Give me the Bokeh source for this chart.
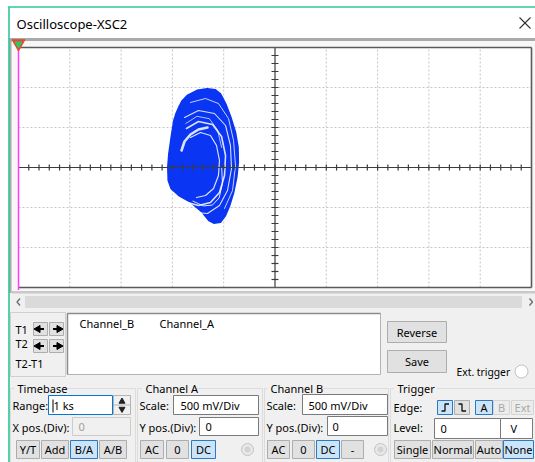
import numpy as np
from bokeh.plotting import figure
from bokeh.models import Range1d
from bokeh.core.properties import value
from bokeh.embed import file_html
from bokeh.resources import INLINE

# ---------------- data (B/A display, volts; 500 mV/Div) ----------------
X_DIVS = [-2.5, -2.0, -1.5, -1.0, -0.5, 0.0, 0.5, 1.0, 1.5, 2.0, 2.5]
Y_DIVS = [-1.5, -1.0, -0.5, 0.0, 0.5, 1.0, 1.5]
MINOR_STEP = 0.1

# outer envelope of the trace (Channel_A on x, Channel_B on y)
trace_x = [-0.661, -0.760, -0.856, -0.905, -0.938, -0.966, -0.986, -1.012, -1.035, -1.045,
           -1.041, -1.012, -0.938, -0.824, -0.710, -0.645, -0.596, -0.531, -0.482, -0.441,
           -0.402, -0.372, -0.357, -0.360, -0.385, -0.430, -0.480, -0.531, -0.580]
trace_y = [0.984, 0.965, 0.900, 0.835, 0.754, 0.670, 0.588, 0.379, 0.171, 0.004,
           -0.163, -0.266, -0.350, -0.434, -0.559, -0.663, -0.696, -0.684, -0.600, -0.475,
           -0.309, -0.121, 0.066, 0.254, 0.441, 0.629, 0.796, 0.921, 0.971]

# empty bands between the orbits of the trace
gap_xs = [
    [-0.824, -0.726, -0.629, -0.570, -0.541, -0.551, -0.599, -0.677, -0.765],
    [-0.863, -0.746, -0.609, -0.521, -0.482, -0.492, -0.541, -0.629, -0.746, -0.853],
    [-0.882, -0.746, -0.590, -0.482, -0.434, -0.424, -0.463, -0.541, -0.658, -0.775],
    [-0.824, -0.677, -0.551, -0.453, -0.404, -0.385, -0.414, -0.492],
    [-0.911, -0.882, -0.824, -0.746, -0.658],
    [-0.800, -0.700, -0.610, -0.545, -0.512, -0.520],
    [-0.870, -0.760, -0.640, -0.560, -0.520],
]
gap_ys = [
    [0.375, 0.4375, 0.4, 0.275, 0.0875, -0.1, -0.2625, -0.35, -0.375],
    [0.4875, 0.575, 0.5375, 0.3875, 0.15, -0.1, -0.3125, -0.4375, -0.475, -0.4375],
    [0.625, 0.7125, 0.675, 0.525, 0.275, -0.0125, -0.2875, -0.475, -0.575, -0.5625],
    [0.8125, 0.8625, 0.8, 0.6125, 0.3375, 0.025, -0.2875, -0.5125],
    [0.2125, 0.325, 0.4125, 0.475, 0.5],
    [-0.420, -0.480, -0.470, -0.380, -0.200, 0.000],
    [0.550, 0.640, 0.610, 0.470, 0.250],
]
gap_w = [1.2, 1.6, 1.1, 0.9, 2.6, 1.0, 0.8]

# ---------------- layout constants (page pixels) ----------------
W, H = 535, 462
CX, CY = 274.5, 167.0      # screen centre
KX, KY = 102.6, 80.0       # px per volt
FONT = "Noto Sans"

p = figure(width=W, height=H, x_range=Range1d(0, W), y_range=Range1d(H, 0),
           output_backend="svg", toolbar_location=None, min_border=0,
           x_axis_location=None, y_axis_location=None,
           background_fill_color="#ffffff", border_fill_color="#ffffff",
           outline_line_color=None)
p.xgrid.visible = False
p.ygrid.visible = False
p.extra_x_ranges = {"vx": Range1d(start=(0 - CX) / KX, end=(W - CX) / KX)}
p.extra_y_ranges = {"vy": Range1d(start=(CY - H) / KY, end=(CY - 0) / KY)}
S = dict(x_range_name="vx", y_range_name="vy")

# ---------------- window chrome ----------------
Q = dict(l=[], r=[], t=[], b=[], fill=[], line=[])
def box(l, r, t, b, fill, line):
    Q["l"].append(l); Q["r"].append(r); Q["t"].append(t); Q["b"].append(b)
    Q["fill"].append(fill); Q["line"].append(line)

T = dict(x=[], y=[], s=[], c=[], a=[])
def txt(x, y, s, c="#000000", a="left"):
    T["x"].append(x); T["y"].append(y); T["s"].append(s); T["c"].append(c); T["a"].append(a)

def button(l, r, t, b, label, state="n"):
    fill, line, tc = {"n": ("#e1e1e1", "#adadad", "#000000"),
                      "s": ("#cce4f7", "#2a79c4", "#000000"),
                      "d": ("#ececec", "#d4d4d4", "#a8a8a8")}[state]
    box(l, r, t, b, fill, line)
    if label:
        txt((l + r) / 2, (t + b) / 2, label, tc, "center")

# window body + title bar
box(8, 540, 6, 470, "#f0f0f0", "#f0f0f0")
box(8, 540, 6, 38, "#ffffff", "#ffffff")
box(9, 540, 38, 41, "#a9a9a9", "#a9a9a9")
box(9, 11.5, 38, 292, "#a9a9a9", "#a9a9a9")
box(11.5, 540, 41, 292, "#f7f7f7", "#f7f7f7")
box(11.5, 540, 291, 292.5, "#c9c9c9", "#c9c9c9")

# scrollbar
box(25, 521, 296, 307, "#dadada", "#dadada")

# cursor panel
box(10, 65, 312, 376, "#f0f0f0", "#d0d0d0")
button(33, 47, 322, 335, None)
button(49, 63, 322, 335, None)
button(33, 47, 339, 352, None)
button(49, 63, 339, 352, None)
txt(15, 329, "T1"); txt(15, 343, "T2"); txt(15, 363, "T2-T1")

# readout area
box(67, 380, 313, 374, "#ffffff", "#b4b4b4")
txt(79, 323, "Channel_B"); txt(159, 323, "Channel_A")

button(387, 446, 321, 342, "Reverse")
button(387, 446, 350, 372, "Save")

# group frames
for l, r in [(10, 135), (137, 262), (264, 388), (390, 545)]:
    box(l, r, 388, 470, "#f0f0f0", "#dcdcdc")
for l, r, lab in [(14, 66, "Timebase"), (142, 194, "Channel A"),
                  (267, 318, "Channel B"), (394, 436, "Trigger")]:
    box(l, r, 383, 393, "#f0f0f0", "#f0f0f0")
    txt(l + 3, 388, lab)

# Timebase
txt(12, 405, "Range:")
box(48, 112, 395, 414, "#ffffff", "#0078d7")
txt(53, 405, "1 ks")
box(113, 130, 395, 414, "#f0f0f0", "#b4b4b4")
txt(12, 427, "X pos.(Div):")
box(72, 130, 417, 435, "#f0f0f0", "#cccccc")
txt(78, 426, "0", "#a0a0a0")
button(16, 39, 440, 458, "Y/T")
button(41, 68, 440, 458, "Add")
button(70, 97, 440, 458, "B/A", "s")
button(99, 126, 440, 458, "A/B")

# Channel A
txt(139, 405, "Scale:")
box(173, 258, 395, 414, "#ffffff", "#7a7a7a")
txt(180, 405, "500 mV/Div")
txt(139, 427, "Y pos.(Div):")
box(199, 258, 417, 435, "#ffffff", "#7a7a7a")
txt(205, 426, "0")
button(140, 163, 440, 458, "AC")
button(166, 188, 440, 458, "0")
button(191, 215, 440, 458, "DC", "s")

# Channel B
txt(266, 405, "Scale:")
box(302, 387, 394, 414, "#ffffff", "#7a7a7a")
txt(308, 405, "500 mV/Div")
txt(266, 427, "Y pos.(Div):")
box(327, 387, 416, 435, "#ffffff", "#7a7a7a")
txt(332, 426, "0")
button(267, 289, 440, 458, "AC")
button(292, 314, 440, 458, "0")
button(316, 339, 440, 458, "DC", "s")
button(341, 363, 440, 458, "-")

# Trigger
txt(393, 407, "Edge:")
button(437, 452, 400, 414, None, "s")
button(454, 469, 400, 414, None)
button(475, 492, 400, 414, "A", "s")
button(493, 509, 400, 414, "B", "d")
button(511, 533, 400, 414, "Ext", "d")
txt(393, 427, "Level:")
box(434, 500, 418, 438, "#ffffff", "#7a7a7a")
box(500, 532, 418, 438, "#ffffff", "#7a7a7a")
txt(440, 428, "0"); txt(510, 428, "V")
button(394, 430, 440, 458, "Single")
button(432, 473, 440, 458, "Normal")
button(475, 502, 440, 458, "Auto")
button(503, 533, 440, 458, "None", "s")

p.quad(left=Q["l"], right=Q["r"], top=Q["t"], bottom=Q["b"],
       fill_color=Q["fill"], line_color=Q["line"], line_width=1)

# readout inset edge
p.multi_line(xs=[[67, 67, 380]], ys=[[374, 313, 313]], line_color="#8c8c8c", line_width=1.5)

# ---------------- scope screen (volt coordinates) ----------------
p.quad(left=[X_DIVS[0]], right=[X_DIVS[-1]], top=[Y_DIVS[-1]], bottom=[Y_DIVS[0]],
       fill_color="#ffffff", line_color=None, **S)
inner_x = [v for v in X_DIVS[1:-1] if v != 0]
inner_y = [v for v in Y_DIVS[1:-1] if v != 0]
p.segment(x0=inner_x, y0=[Y_DIVS[0]] * len(inner_x), x1=inner_x, y1=[Y_DIVS[-1]] * len(inner_x),
          line_color="#c4c4c4", line_dash="2 2", line_width=1, **S)
p.segment(x0=[X_DIVS[0]] * len(inner_y), y0=inner_y, x1=[X_DIVS[-1]] * len(inner_y), y1=inner_y,
          line_color="#c4c4c4", line_dash="2 2", line_width=1, **S)

# trace
p.patch(trace_x, trace_y, fill_color="#0a35f2", line_color="#0a35f2", line_width=1.5,
        line_join="round", **S)
p.multi_line(xs=gap_xs, ys=gap_ys, line_color="#ffffff", line_width=gap_w, line_alpha=0.85,
             line_join="round", line_cap="round", **S)

# centre axes with crossing ticks
p.segment(x0=[X_DIVS[0], 0], y0=[0, Y_DIVS[0]], x1=[X_DIVS[-1], 0], y1=[0, Y_DIVS[-1]],
          line_color="#3c3c3c", line_width=1.2, **S)
mx = np.round(np.arange(X_DIVS[0] + MINOR_STEP, X_DIVS[-1] - MINOR_STEP / 2, MINOR_STEP), 2)
my = np.round(np.arange(Y_DIVS[0] + MINOR_STEP, Y_DIVS[-1] - MINOR_STEP / 2, MINOR_STEP), 2)
p.scatter(x=mx, y=np.zeros_like(mx), marker="dash", size=6, angle=np.pi / 2,
          line_color="#3c3c3c", line_width=1.2, **S)
p.scatter(x=np.zeros_like(my), y=my, marker="dash", size=7,
          line_color="#3c3c3c", line_width=1.2, **S)

# screen border
p.segment(x0=[X_DIVS[0], X_DIVS[0], X_DIVS[-1]], y0=[Y_DIVS[-1], Y_DIVS[0], Y_DIVS[0]],
          x1=[X_DIVS[-1], X_DIVS[-1], X_DIVS[-1]], y1=[Y_DIVS[-1], Y_DIVS[0], Y_DIVS[-1]],
          line_color="#5a5a5a", line_width=1.6, **S)
# cursor T1
p.segment(x0=[X_DIVS[0]], y0=[Y_DIVS[0] - 0.03], x1=[X_DIVS[0]], y1=[Y_DIVS[-1] + 0.05],
          line_color="#ff3cff", line_width=1.5, **S)
p.scatter(x=[X_DIVS[0]], y=[Y_DIVS[-1] + 0.05], marker="inverted_triangle", size=13,
          fill_color="#e8492f", line_color="#e8492f", **S)
p.scatter(x=[X_DIVS[0]], y=[Y_DIVS[-1] + 0.045], marker="inverted_triangle", size=7,
          fill_color="#2ec46a", line_color="#2ec46a", **S)

# ---------------- small glyphs ----------------
p.segment(x0=[8.5, 8], y0=[6, 6.5], x1=[8.5, 540], y1=[470, 6.5], line_color="#2fc79a", line_width=1.6)
p.segment(x0=[519, 519], y0=[17, 28], x1=[530, 530], y1=[28, 17], line_color="#333333", line_width=1.1)
p.multi_line(xs=[[19.5, 16.5, 19.5], [529, 532, 529]], ys=[[298, 301.5, 305], [298, 301.5, 305]],
             line_color="#707070", line_width=1.4)
p.scatter(x=[121.5], y=[401], marker="triangle", size=6, fill_color="#222222", line_color="#222222")
p.scatter(x=[121.5], y=[408.5], marker="inverted_triangle", size=6, fill_color="#222222", line_color="#222222")
p.line(x=[113, 130], y=[404.5, 404.5], line_color="#b4b4b4", line_width=1)
ay = [328.5, 345.5, 328.5, 345.5]
p.segment(x0=[38.5, 38.5, 52.5, 52.5], y0=ay, x1=[43.5, 43.5, 57.5, 57.5], y1=ay,
          line_color="#000000", line_width=2)
p.scatter(x=[37.5, 37.5], y=[328.5, 345.5], marker="triangle", angle=np.pi / 2, size=7,
          fill_color="#000000", line_color="#000000")
p.scatter(x=[58.5, 58.5], y=[328.5, 345.5], marker="triangle", angle=-np.pi / 2, size=7,
          fill_color="#000000", line_color="#000000")
p.multi_line(xs=[[441, 444.5, 444.5, 448.5], [458, 461.5, 461.5, 465.5]],
             ys=[[410.5, 410.5, 403.5, 403.5], [403.5, 403.5, 410.5, 410.5]],
             line_color="#111111", line_width=1.3)
p.scatter(x=[247, 380, 521], y=[449, 449, 371], marker="circle", size=[12, 12, 13],
          fill_color=["#e8e8e8", "#e8e8e8", "#ffffff"], line_color="#c2c2c2", line_width=1)
p.scatter(x=[247, 380], y=[449, 449], marker="circle", size=6, fill_color="#d2d2d2", line_color=None)
p.segment(x0=[52.5], y0=[399], x1=[52.5], y1=[412], line_color="#000000", line_width=1)

# ---------------- texts ----------------
for a in ("left", "center"):
    idx = [i for i, v in enumerate(T["a"]) if v == a]
    p.text(x=[T["x"][i] for i in idx], y=[T["y"][i] for i in idx], text=[T["s"][i] for i in idx],
           text_color=[T["c"][i] for i in idx], text_font=value(FONT), text_font_size="11px",
           text_align=a, text_baseline="middle")
p.text(x=[456], y=[371], text=["Ext. trigger"], text_font=value(FONT), text_font_size="10.3px",
       text_color="#000000", text_baseline="middle")
p.text(x=[16], y=[23], text=["Oscilloscope-XSC2"], text_font=value(FONT), text_font_size="13px",
       text_color="#000000", text_baseline="middle")

open("out.html", "w").write(file_html(p, INLINE))
